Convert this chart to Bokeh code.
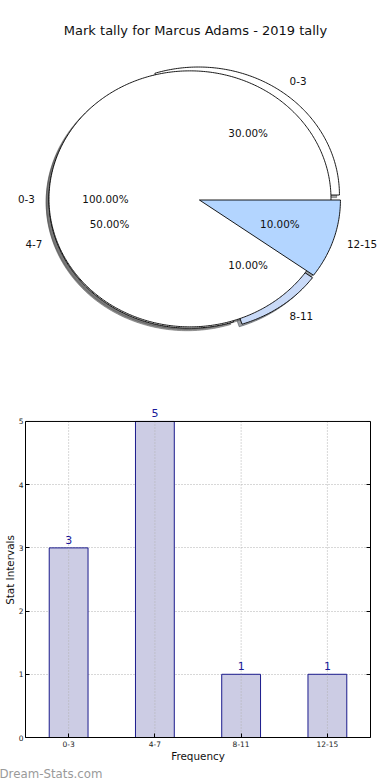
import numpy as np
from bokeh.plotting import figure
from bokeh.models import (Range1d, FactorRange, Label, ColumnDataSource, FixedTicker, Title,
                          LinearAxis, Span)
from bokeh.layouts import column
from bokeh.embed import file_html
from bokeh.resources import INLINE
from bokeh.core.properties import value

# ---------------- data ----------------
title_text = "Mark tally for Marcus Adams - 2019 tally"
pie_labels = ["0-3", "0-3", "4-7", "8-11", "12-15"]
pie_percents = [100.0, 30.0, 50.0, 10.0, 10.0]

bar_categories = ["0-3", "4-7", "8-11", "12-15"]
bar_counts = [3, 5, 1, 1]
y_ticks = [0, 1, 2, 3, 4, 5]
x_axis_title = "Frequency"
y_axis_title = "Stat Intervals"
watermark_text = "Dream-Stats.com"

# ---------------- style ----------------
FONT = value("DejaVu Sans")
pie_colors = ["#ffffff", "#ffffff", "#ffffff", "#c9daf8", "#b3d5ff"]
pie_offsets = [(-0.032, 0.005), (0.028, 0.035), (-0.032, -0.005), (0.028, -0.023), (0.035, -0.004)]
draw_order = [1, 2, 3, 0, 4]

W = 390
H1 = 400
H2 = 380
PX_X, PX_Y = 141.0, 128.0      # pixels per pie radius unit
CX, CY = 194.0, 199.0          # pie centre, figure pixels from left / top

# ---------------- pie ----------------
p1 = figure(width=W, height=H1,
            x_range=Range1d(-CX / PX_X, (W - CX) / PX_X),
            y_range=Range1d(-(H1 - CY) / PX_Y, CY / PX_Y),
            x_axis_type=None, y_axis_type=None,
            output_backend="svg", toolbar_location=None, min_border=0)
p1.outline_line_color = None

fr = np.array(pie_percents) / 100.0
ends = np.cumsum(fr) * 2 * np.pi
starts = ends - fr * 2 * np.pi
mids = (starts + ends) / 2

wxs, wys = [], []
for i in range(len(fr)):
    ox, oy = pie_offsets[i]
    t = np.linspace(starts[i], ends[i], max(int(fr[i] * 500), 30))
    xs = list(ox + np.cos(t))
    ys = list(oy + np.sin(t))
    if fr[i] < 1:
        xs = [ox] + xs
        ys = [oy] + ys
    wxs.append(xs)
    wys.append(ys)


def shade(c):
    c = c.lstrip("#")
    r, g, b = (int(c[k:k + 2], 16) for k in (0, 2, 4))
    return "#%02x%02x%02x" % (int(r * 0.3), int(g * 0.3), int(b * 0.3))


p1.patches(xs=[[x - 0.02 for x in wxs[i]] for i in draw_order],
           ys=[[y - 0.02 for y in wys[i]] for i in draw_order],
           fill_color=[shade(pie_colors[i]) for i in draw_order], fill_alpha=0.5,
           line_color=[shade(pie_colors[i]) for i in draw_order], line_alpha=0.5)
p1.patches(xs=[wxs[i] for i in draw_order], ys=[wys[i] for i in draw_order],
           fill_color=[pie_colors[i] for i in draw_order],
           line_color="black", line_width=0.9)

for i in range(len(fr)):
    ox, oy = pie_offsets[i]
    c, s = np.cos(mids[i]), np.sin(mids[i])
    p1.text(x=[ox + 1.1 * c], y=[oy + 1.1 * s], text=[pie_labels[i]],
            text_align="left" if c > 0 else "right", text_baseline="middle",
            text_font=FONT, text_font_size="10.4px", text_color="#111111")
    p1.text(x=[ox + 0.6 * c], y=[oy + 0.6 * s], text=["%.2f%%" % pie_percents[i]],
            text_align="center", text_baseline="middle",
            text_font=FONT, text_font_size="10.4px", text_color="#111111")

p1.add_layout(Label(x=195, y=H1 - 30, x_units="screen", y_units="screen",
                    text=title_text, text_align="center", text_baseline="middle",
                    text_font="DejaVu Sans", text_font_size="13px", text_color="#111111"))

# ---------------- bars ----------------
y_max = y_ticks[-1]
y_top = y_max * 1.06          # head-room so the value label above the top bar is not clipped
LB, RB, TB, BB = 19, 20, 2, 40
p2 = figure(width=W, height=H2,
            x_range=FactorRange(factors=bar_categories, range_padding=0),
            y_range=Range1d(0, y_top),
            output_backend="svg", toolbar_location=None,
            min_border_left=LB, min_border_right=RB, min_border_top=TB, min_border_bottom=BB)
p2.outline_line_color = None
p2.xgrid.visible = False
left_axis = p2.yaxis[0]
bottom_axis = p2.xaxis[0]

src = ColumnDataSource(dict(cat=bar_categories, count=bar_counts,
                            label=[str(v) for v in bar_counts],
                            base=[0] * len(bar_categories),
                            cap=[y_max] * len(bar_categories)))
GRID = dict(line_color="#b0b0b0", line_dash="1 2", line_width=1)
p2.segment(x0="cat", y0="base", x1="cat", y1="cap", source=src, **GRID)
p2.ygrid.ticker = FixedTicker(ticks=y_ticks)
p2.ygrid.grid_line_color = GRID["line_color"]
p2.ygrid.grid_line_dash = GRID["line_dash"]

p2.vbar(x="cat", top="count", width=0.45, source=src,
        fill_color="#cccce4", line_color="#1a1a8c", line_width=1)
p2.segment(x0="cat", y0="base", x1="cat", y1="count", source=src, **GRID)
p2.text(x="cat", y="count", text="label", source=src,
        text_align="center", text_baseline="bottom", y_offset=-4,
        text_font=FONT, text_font_size="11px", text_color="#1a1a9a")
p2.add_layout(Span(location=y_max, dimension="width", line_color="black", line_width=1))

left_axis.ticker = FixedTicker(ticks=y_ticks)
left_axis.bounds = (0, y_max)
right_axis = LinearAxis(ticker=FixedTicker(ticks=[], minor_ticks=y_ticks), bounds=(0, y_max),
                        major_tick_line_color=None,
                        minor_tick_in=4, minor_tick_out=0, minor_tick_line_color="black",
                        axis_line_color="black")
p2.add_layout(right_axis, "right")

for ax in (bottom_axis, left_axis):
    ax.axis_line_color = "black"
    ax.major_tick_in = 4
    ax.major_tick_out = 0
    ax.minor_tick_line_color = None
    ax.major_label_text_font = "DejaVu Sans"
    ax.major_label_text_font_size = "7.5px"
    ax.major_label_text_color = "#222222"
    ax.axis_label_text_font = "DejaVu Sans"
    ax.axis_label_text_font_size = "10.4px"
    ax.axis_label_text_font_style = "normal"
    ax.axis_label_text_color = "#111111"
bottom_axis.axis_label = x_axis_title
left_axis.axis_label = y_axis_title
bottom_axis.major_label_standoff = 3
bottom_axis.axis_label_standoff = 0
left_axis.major_label_standoff = 2
left_axis.axis_label_standoff = 0

p2.add_layout(Title(text=watermark_text, align="left", offset=-26, standoff=0,
                    text_font="DejaVu Sans", text_font_size="11.8px",
                    text_font_style="normal", text_color="#9a9a9a"), "below")

layout = column(column(p1), column(p2), spacing=0)
open("out.html", "w").write(file_html(layout, INLINE))
